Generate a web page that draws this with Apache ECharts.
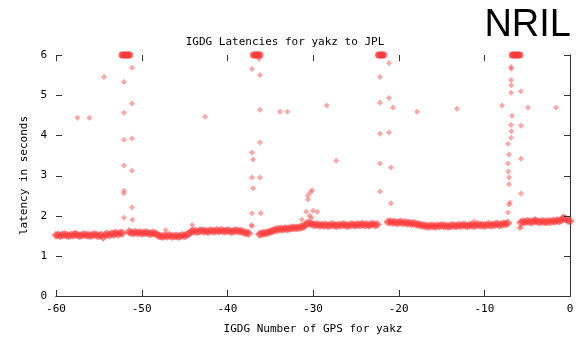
<!DOCTYPE html>
<html>
<head>
<meta charset="utf-8">
<script src="https://cdn.jsdelivr.net/npm/echarts@6/dist/echarts.min.js"></script>
<style>html,body{margin:0;padding:0;background:#fff}#c{width:584px;height:340px}</style>
</head>
<body>
<div id="c"></div>
<script>
// Baseline latency segments (x start, step 0.25 GPS units)
const step = 0.25;
const segAStart = -60;
const segA = [1.51,1.52,1.50,1.52,1.53,1.51,1.50,1.52,1.51,1.53,1.52,1.50,1.51,1.53,1.52,1.51,1.50,1.52,1.53,1.51,1.50,1.52,1.46,1.53,1.54,1.52,1.55,1.53,1.56,1.54,1.57,1.56];
const segBStart = -51.5;
const segB = [1.60,1.58,1.57,1.59,1.57,1.58,1.56,1.57,1.58,1.56,1.55,1.57,1.56,1.54];
const segCStart = -48;
const segC = [1.50,1.49,1.48,1.50,1.49,1.51,1.48,1.49,1.50,1.48,1.49,1.51,1.50,1.52,1.55];
const segDStart = -44.25;
const segD = [1.60,1.62,1.61,1.60,1.62,1.63,1.61,1.62,1.60,1.63,1.62,1.61,1.63,1.62,1.64,1.62,1.61,1.63,1.62,1.60,1.62,1.63,1.61,1.62,1.60,1.58,1.57,1.56];
const segEStart = -36.25;
const segE = [1.54,1.55,1.56,1.57,1.58,1.60,
  1.62,1.64,1.65,1.66,1.67,1.66,1.68,1.67,
  1.68,1.69,1.70,1.69,1.70,1.71,1.72,1.74,
  1.80,1.82,1.80,1.78,1.77,1.78,1.76,1.77,
  1.76,1.77,1.75,1.76,1.78,1.76,1.75,1.77,1.76,1.78,1.77,1.75,1.76,1.78,1.77,1.76,1.78,1.77,1.79,1.77,1.78,1.76,1.78,1.79,1.77,1.78];
const segFStart = -21.25;
const segF = [1.84,1.85,1.83,1.84,1.82,1.83,1.84,1.82,1.83,1.81,1.82,1.80,1.81,1.79,1.78,1.77,
  1.76,1.75,1.74,1.73,1.75,1.74,1.73,1.75,1.74,1.76,1.74,1.75,1.73,1.74,1.76,1.75,1.74,1.76,1.75,1.77,1.76,1.74,1.76,1.77,1.75,1.76,1.78,1.76,1.77,1.75,1.77,1.78,1.76,1.77,1.78,1.79,1.77,1.78,1.80,1.79,1.82];
const segGStart = -5.75;
const segG = [1.83,1.85,1.84,1.86,1.85,1.84,1.86,1.87,1.85,1.84,1.86,1.85,1.84,1.86,1.85,1.87,1.86,1.88,1.87,1.89,1.93,1.92,1.88,1.86];

// Points capped at 6 s (top of range)
const cappedX = [-52.3,-52.15,-52.0,-51.85,-51.7,-51.55,-51.4,
  -36.95,-36.8,-36.65,-36.5,-36.35,-36.2,
  -22.35,-22.2,-22.05,-21.9,-21.75,
  -6.75,-6.6,-6.45,-6.3,-6.15,-6.0,-5.85];

// Scattered high-latency points [gps, seconds]
const outliers = [
  [-52.06,5.33],[-51.13,5.68],[-51.13,4.79],[-52.06,4.56],[-52.06,3.89],[-51.13,3.92],[-52.06,3.25],[-51.13,3.12],[-52.1,2.55],[-52.06,2.62],[-51.13,2.21],[-52.06,1.95],[-51.1,1.9],
  [-54.4,5.45],[-57.5,4.44],[-56.1,4.44],[-42.6,4.46],
  [-36.3,5.9],[-37.12,5.65],[-36.19,5.5],[-36.19,4.64],[-36.19,3.82],[-37.12,3.57],[-37.0,3.40],[-37.12,2.95],[-36.19,2.95],[-37.0,2.68],[-37.12,2.06],[-36.1,2.06],[-37.2,1.76],
  [-33.85,4.59],[-33.0,4.59],[-28.4,4.74],[-27.3,3.37],
  [-30.6,2.5],[-30.3,2.58],[-30.1,2.63],[-30.6,2.4],[-30.8,2.1],[-30.0,2.12],[-29.5,2.1],[-31.3,1.9],[-30.4,2.0],[-30.2,1.95],
  [-22.18,5.45],[-21.13,5.8],[-22.18,4.81],[-21.13,4.93],[-20.66,4.69],[-22.18,4.04],[-21.13,4.07],[-22.18,3.30],[-20.9,3.2],[-22.18,2.6],[-20.9,2.31],[-17.86,4.59],
  [-13.2,4.66],
  [-6.89,5.70],[-6.85,5.66],[-6.89,5.38],[-6.85,5.25],[-6.89,5.06],[-5.72,5.1],[-7.94,4.74],[-4.9,4.69],[-1.63,4.69],[-6.77,4.49],[-5.72,4.24],[-6.89,4.26],[-6.85,4.1],[-6.89,3.94],[-7.24,3.79],[-7.12,3.52],[-5.72,3.42],[-7.24,3.3],[-7.2,3.1],[-7.1,2.95],[-7.12,2.78],[-5.72,2.55],[-7.12,2.28],[-7.0,2.33],[-7.24,2.08],[-5.72,1.71],
  [-47.2,1.64],[-44.1,1.77],[-37.1,1.74],[-11.2,1.86],[-4.1,1.92],[-0.8,1.98],[-5.9,1.69],[-57.8,1.58],[-53.2,1.6]
];

const xTicks = [-60,-50,-40,-30,-20,-10,0];
const yTicks = [0,1,2,3,4,5,6];
const xMin = -60, xMax = 0, yMin = 0, yMax = 6;

function segPairs(start, vals) { return vals.map((v, i) => [start + i * step, v]); }
const baseline = [].concat(
  segPairs(segAStart, segA), segPairs(segBStart, segB), segPairs(segCStart, segC),
  segPairs(segDStart, segD), segPairs(segEStart, segE), segPairs(segFStart, segF),
  segPairs(segGStart, segG));
const capped = cappedX.map(x => [x, yMax]);

const mono = 'DejaVu Sans Mono';
const TICK = 6;
const chart = echarts.init(document.getElementById('c'), null, {renderer: 'canvas'});
const axisCommon = {
  axisLine: {show: true, lineStyle: {color: '#333', width: 1}},
  axisTick: {show: false},
  splitLine: {show: false}
};
// inward ticks on all four sides, positioned through the axis scales
function tickSeries(kind) {
  const data = kind === 'x' ? xTicks.map(v => [v, yMin]) : yTicks.map(v => [xMin, v]);
  return {
    type: 'custom', silent: true, z: 5, clip: false, data: data,
    renderItem: function (params, api) {
      const v = kind === 'x' ? api.value(0) : api.value(1);
      const style = {stroke: '#333', lineWidth: 1};
      if (kind === 'x') {
        const a = api.coord([v, yMin]), b = api.coord([v, yMax]);
        const x = Math.round(a[0]) + 0.5;
        return {type: 'group', children: [
          {type: 'line', shape: {x1: x, y1: a[1], x2: x, y2: a[1] - TICK}, style: style},
          {type: 'line', shape: {x1: x, y1: b[1], x2: x, y2: b[1] + TICK}, style: style}
        ]};
      }
      const a = api.coord([xMin, v]), b = api.coord([xMax, v]);
      const y = Math.round(a[1]) + 0.5;
      return {type: 'group', children: [
        {type: 'line', shape: {x1: a[0], y1: y, x2: a[0] + TICK, y2: y}, style: style},
        {type: 'line', shape: {x1: b[0], y1: y, x2: b[0] - TICK, y2: y}, style: style}
      ]};
    }
  };
}
chart.setOption({
  animation: false,
  backgroundColor: '#fff',
  title: [
    {text: 'IGDG Latencies for yakz to JPL', left: 280, top: 32, textAlign: 'center',
     textStyle: {fontFamily: mono, fontSize: 11, fontWeight: 'normal', color: '#000'}},
    {text: 'NRIL', right: 8, top: 2,
     textStyle: {fontFamily: 'Liberation Sans', fontSize: 38, fontWeight: 'normal', color: '#000'}}
  ],
  grid: {left: 56, right: 14, top: 55, bottom: 43},
  xAxis: [
    Object.assign({}, axisCommon, {type: 'value', position: 'bottom', min: xMin, max: xMax, interval: 10,
      name: 'IGDG Number of GPS for yakz', nameLocation: 'middle', nameGap: 28,
      nameTextStyle: {fontFamily: mono, fontSize: 11, color: '#000'},
      axisLabel: {fontFamily: mono, fontSize: 11, color: '#000', margin: 8, formatter: v => xTicks.includes(v) ? String(v) : ''}}),
    Object.assign({}, axisCommon, {type: 'value', position: 'top', min: xMin, max: xMax, interval: 10,
      axisLabel: {show: false}})
  ],
  yAxis: [
    Object.assign({}, axisCommon, {type: 'value', position: 'left', min: yMin, max: yMax, interval: 1,
      name: 'latency in seconds', nameLocation: 'middle', nameGap: 21, nameRotate: 90,
      nameTextStyle: {fontFamily: mono, fontSize: 11, color: '#000'},
      axisLabel: {fontFamily: mono, fontSize: 11, color: '#000', margin: 9, formatter: v => yTicks.includes(v) ? String(v) : ''}}),
    Object.assign({}, axisCommon, {type: 'value', position: 'right', min: yMin, max: yMax, interval: 1, axisLabel: {show: false}})
  ],
  series: [
    {type: 'scatter', data: baseline, symbol: 'diamond', symbolSize: 9, clip: false,
     itemStyle: {color: 'rgba(255,60,60,0.8)'}},
    {type: 'scatter', data: outliers, symbol: 'diamond', symbolSize: 6, clip: false,
     itemStyle: {color: 'rgba(255,70,70,0.6)'}},
    {type: 'scatter', data: capped, symbol: 'circle', symbolSize: 7, clip: false,
     itemStyle: {color: 'rgba(255,60,60,0.9)'}},
    tickSeries('x'),
    tickSeries('y')
  ]
});
</script>
</body>
</html>
